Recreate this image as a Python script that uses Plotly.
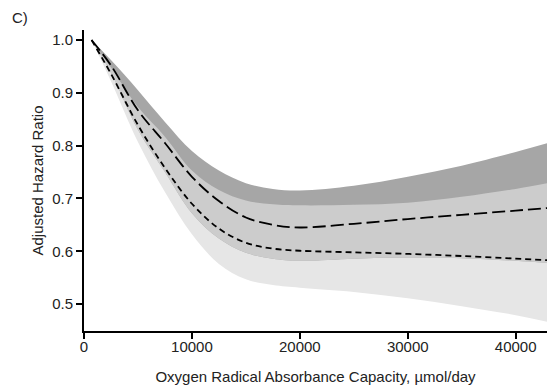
import plotly.graph_objects as go

# Data
orac = [700, 2500, 5000, 7500, 10000, 12500, 15000, 17500, 20000, 25000, 30000, 35000, 40000, 43000]

hr_long = [1.0, 0.952, 0.867, 0.805, 0.741, 0.695, 0.664, 0.650, 0.645, 0.652, 0.661, 0.669, 0.677, 0.682]
ci_long_upper = [1.0, 0.962, 0.905, 0.845, 0.790, 0.753, 0.729, 0.718, 0.715, 0.724, 0.741, 0.762, 0.788, 0.805]
ci_long_lower = [1.0, 0.938, 0.830, 0.750, 0.672, 0.624, 0.597, 0.586, 0.582, 0.586, 0.588, 0.587, 0.582, 0.578]

hr_short = [1.0, 0.936, 0.839, 0.758, 0.690, 0.643, 0.616, 0.605, 0.601, 0.598, 0.595, 0.591, 0.586, 0.583]
ci_short_upper = [1.0, 0.948, 0.873, 0.817, 0.753, 0.716, 0.696, 0.689, 0.687, 0.688, 0.692, 0.703, 0.718, 0.729]
ci_short_lower = [1.0, 0.922, 0.807, 0.712, 0.632, 0.576, 0.547, 0.536, 0.531, 0.523, 0.511, 0.496, 0.479, 0.466]

x_ticks = [0, 10000, 20000, 30000, 40000]
y_ticks = [0.5, 0.6, 0.7, 0.8, 0.9, 1.0]

LIGHT = "#e6e6e6"
MID = "#cccccc"
DARK = "#a6a6a6"

fig = go.Figure()

def band(lower, upper, color):
    fig.add_trace(go.Scatter(x=orac, y=lower, mode="lines",
                             line=dict(width=0, shape="spline", smoothing=1.0),
                             showlegend=False, hoverinfo="skip"))
    fig.add_trace(go.Scatter(x=orac, y=upper, mode="lines",
                             line=dict(width=0, shape="spline", smoothing=1.0),
                             fill="tonexty", fillcolor=color, showlegend=False, hoverinfo="skip"))

band(ci_short_lower, ci_short_upper, LIGHT)
band(ci_long_lower, ci_long_upper, DARK)
band(ci_long_lower, ci_short_upper, MID)

fig.add_trace(go.Scatter(x=orac, y=hr_short, mode="lines",
                         line=dict(color="black", width=1.8, dash="6px,4px", shape="spline", smoothing=1.0),
                         showlegend=False))
fig.add_trace(go.Scatter(x=orac, y=hr_long, mode="lines",
                         line=dict(color="black", width=1.8, dash="13px,5px", shape="spline", smoothing=1.0),
                         showlegend=False))

font = "Liberation Sans, Arial, sans-serif"
TXT = "#222222"

fig.update_layout(
    width=547, height=387,
    margin=dict(l=84, r=0, t=30, b=56),
    paper_bgcolor="white", plot_bgcolor="white",
    font=dict(family=font, size=15, color=TXT),
    xaxis=dict(range=[0, 42900], tickvals=x_ticks, ticktext=[str(v) for v in x_ticks],
               showgrid=False, zeroline=False, showline=True, linecolor="black", linewidth=2,
               ticks="outside", ticklen=6, tickwidth=1.5, tickcolor="black",
               ticklabelstandoff=-5,
               tickfont=dict(size=15, color=TXT),
               title=dict(text="Oxygen Radical Absorbance Capacity, µmol/day",
                          font=dict(size=15, color=TXT), standoff=17)),
    yaxis=dict(range=[0.449, 1.019], tickvals=y_ticks, ticktext=["0.5", "0.6", "0.7", "0.8", "0.9", "1.0"],
               showgrid=False, zeroline=False, showline=True, linecolor="black", linewidth=2,
               ticks="outside", ticklen=6, tickwidth=1.5, tickcolor="black",
               tickfont=dict(size=15, color=TXT),
               title=dict(text="Adjusted Hazard Ratio", font=dict(size=15, color=TXT), standoff=5)),
    annotations=[dict(text="C)", x=-74 / 463, y=1 + 12 / 301, xref="paper", yref="paper",
                      xanchor="left", yanchor="middle", showarrow=False,
                      font=dict(size=15, color=TXT))],
)

fig.write_html("out.html")
